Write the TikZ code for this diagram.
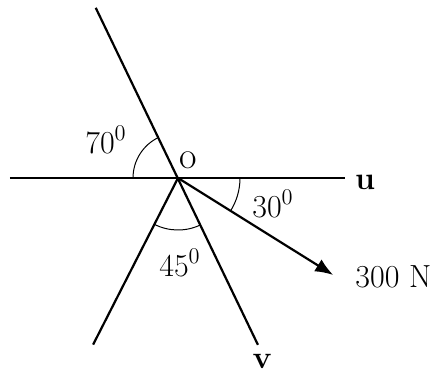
\documentclass[tikz,border=0pt]{standalone}
\usetikzlibrary{arrows.meta}
\begin{document}
\begin{tikzpicture}[x=5pt, y=5pt, every node/.style={font=\fontsize{16}{18}\selectfont, inner sep=1pt},
    ray/.style={line width=1.1pt}, anglearc/.style={line width=0.5pt}]
  \useasboundingbox (-17.8,-19.6) rectangle (25.4,17.8);
  \coordinate (o) at (0,0);
  \coordinate (left) at (-16.8,0);
  \coordinate (right) at (16.7,0);
  \coordinate (top) at (115.8:18.9);
  \coordinate (vend) at (-64.4:18.5);
  \coordinate (low) at (243:18.7);
  \coordinate (tip) at (-32:18.3);
  % lines through o
  \draw[line width=1.4pt] (left) -- (right);
  \draw[ray] (top) -- (vend);
  \draw[ray] (o) -- (low);
  \draw[ray, -{Latex[length=9pt, width=7pt]}] (o) -- (tip);
  % angle marks
  \draw[anglearc] (180:4.5) arc (180:115.8:4.5);
  \draw[anglearc] (0:6.2) arc (0:-32:6.2);
  \draw[anglearc] (243:5.2) arc (243:295.6:5.2);
  \node (lo) at (1.0,1.8) {\fontsize{19}{20}\selectfont o};
  \node (lu) at (18.7,-0.4) {\textbf{u}};
  \node (lv) at (8.4,-18.3) {\textbf{v}};
  \node[anchor=west] (lf) at (17.5,-9.9) {300 N};
  \node (a70) at (-7.2,3.8) {70\textsuperscript{0}};
  \node (a30) at (9.5,-2.6) {30\textsuperscript{0}};
  \node (a45) at (0.2,-8.5) {45\textsuperscript{0}};
\end{tikzpicture}
\end{document}
